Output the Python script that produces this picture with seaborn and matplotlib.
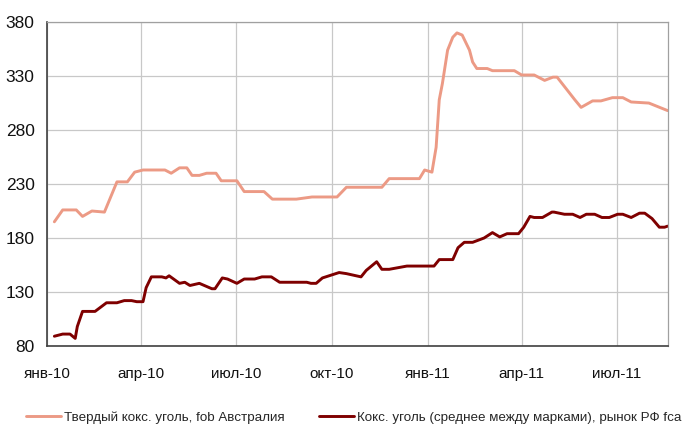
import pandas as pd
import matplotlib.pyplot as plt
import seaborn as sns

# Твердый коксующийся уголь, fob Австралия
hard_dates = ["2010-01-08", "2010-01-16", "2010-01-29", "2010-02-04", "2010-02-13", "2010-02-25",
              "2010-03-09", "2010-03-19", "2010-03-26", "2010-04-03", "2010-04-24", "2010-04-30",
              "2010-05-08", "2010-05-15", "2010-05-20", "2010-05-27", "2010-06-03", "2010-06-12",
              "2010-06-17", "2010-07-02", "2010-07-09", "2010-07-28", "2010-08-05", "2010-08-28",
              "2010-09-12", "2010-10-06", "2010-10-15", "2010-11-18", "2010-11-25", "2010-12-24",
              "2010-12-29", "2011-01-05", "2011-01-09", "2011-01-12", "2011-01-15", "2011-01-20",
              "2011-01-25", "2011-01-29", "2011-02-03", "2011-02-10", "2011-02-13", "2011-02-17",
              "2011-02-27", "2011-03-04", "2011-03-25", "2011-04-01", "2011-04-13", "2011-04-23",
              "2011-05-01", "2011-05-05", "2011-05-22", "2011-05-28", "2011-06-08", "2011-06-16",
              "2011-06-27", "2011-07-07", "2011-07-15", "2011-08-01", "2011-08-19"]
hard_vals = [195, 206, 206, 200, 205, 204,
             232, 232, 241, 243, 243, 240,
             245, 245, 238, 238, 240, 240,
             233, 233, 223, 223, 216, 216,
             218, 218, 227, 227, 235, 235,
             243, 241, 264, 308, 323, 354,
             366, 370, 368, 354, 343, 337,
             337, 335, 335, 331, 331, 326,
             329, 329, 308, 301, 307, 307,
             310, 310, 306, 305, 298]

# Коксующийся уголь (среднее между марками), рынок РФ fca
rf_dates = ["2010-01-08", "2010-01-16", "2010-01-23", "2010-01-28", "2010-01-30", "2010-02-04",
            "2010-02-16", "2010-02-27", "2010-03-09", "2010-03-16", "2010-03-23", "2010-03-28",
            "2010-04-03", "2010-04-06", "2010-04-11", "2010-04-21", "2010-04-25", "2010-04-28",
            "2010-05-08", "2010-05-13", "2010-05-18", "2010-05-27", "2010-06-08", "2010-06-11",
            "2010-06-18", "2010-06-23", "2010-07-02", "2010-07-09", "2010-07-19", "2010-07-26",
            "2010-08-04", "2010-08-12", "2010-09-07", "2010-09-11", "2010-09-16", "2010-09-22",
            "2010-10-08", "2010-10-15", "2010-10-29", "2010-11-03", "2010-11-13", "2010-11-18",
            "2010-11-25", "2010-12-12", "2011-01-07", "2011-01-12", "2011-01-25", "2011-01-30",
            "2011-02-05", "2011-02-13", "2011-02-24", "2011-03-04", "2011-03-11", "2011-03-18",
            "2011-03-29", "2011-04-03", "2011-04-09", "2011-04-13", "2011-04-21", "2011-04-30",
            "2011-05-02", "2011-05-12", "2011-05-20", "2011-05-27", "2011-06-02", "2011-06-10",
            "2011-06-17", "2011-06-24", "2011-07-02", "2011-07-07", "2011-07-15", "2011-07-23",
            "2011-07-28", "2011-08-04", "2011-08-11", "2011-08-16", "2011-08-19"]
rf_vals = [89, 91, 91, 87, 98, 112,
           112, 120, 120, 122, 122, 121,
           121, 134, 144, 144, 143, 145,
           138, 139, 136, 138, 133, 133,
           143, 142, 138, 142, 142, 144,
           144, 139, 139, 138, 138, 143,
           148, 147, 144, 150, 158, 151,
           151, 154, 154, 160, 160, 171,
           176, 176, 180, 185, 181, 184,
           184, 190, 200, 199, 199, 204,
           204, 202, 202, 199, 202, 202,
           199, 199, 202, 202, 199, 203,
           203, 198, 190, 190, 191]

tick_dates = ["2010-01-01", "2010-04-01", "2010-07-01", "2010-10-01",
              "2011-01-01", "2011-04-01", "2011-07-01"]
tick_labels = ["янв-10", "апр-10", "июл-10", "окт-10", "янв-11", "апр-11", "июл-11"]
y_ticks = [80, 130, 180, 230, 280, 330, 380]

label_hard = "Твердый кокс. уголь, fob Австралия"
label_rf = "Кокс. уголь (среднее между марками), рынок РФ fca"

hard = pd.DataFrame({"date": pd.to_datetime(hard_dates), "value": hard_vals})
rf = pd.DataFrame({"date": pd.to_datetime(rf_dates), "value": rf_vals})

sns.set_style("white")
plt.rcParams["font.family"] = ["Liberation Sans Narrow", "Liberation Sans", "DejaVu Sans"]

fig = plt.figure(figsize=(6.82, 4.25), dpi=100)
ax = fig.add_axes([0.069, 0.186, 0.910, 0.762])

sns.lineplot(data=hard, x="date", y="value", ax=ax, color="#EC9A85", linewidth=2.1, label=label_hard)
sns.lineplot(data=rf, x="date", y="value", ax=ax, color="#7F0000", linewidth=2.1, label=label_rf)

ax.set_xlim(pd.Timestamp("2010-01-01"), pd.Timestamp("2011-08-19"))
ax.set_ylim(80, 380)
ax.set_yticks(y_ticks)
ax.set_xticks(pd.to_datetime(tick_dates))
ax.set_xticklabels(tick_labels)
ax.set_xlabel("")
ax.set_ylabel("")
ax.grid(True, color="#c8c8c8", linewidth=0.9)
ax.set_axisbelow(True)

for side in ["top", "right"]:
    ax.spines[side].set_color("#a0a0a0")
    ax.spines[side].set_linewidth(0.9)
for side in ["left", "bottom"]:
    ax.spines[side].set_color("#404040")
    ax.spines[side].set_linewidth(1.2)

ax.tick_params(axis="both", which="both", direction="out", length=4, width=1,
               color="#404040", labelcolor="#111111", pad=5)
ax.tick_params(axis="x", pad=11)
for t in ax.get_yticklabels():
    t.set_fontfamily(["Liberation Sans", "DejaVu Sans"])
    t.set_fontsize(12.5)
for t in ax.get_xticklabels():
    t.set_fontfamily(["Liberation Sans", "DejaVu Sans"])
    t.set_fontsize(11)

ax.legend(loc="center", bbox_to_anchor=(0.494, -0.222), ncol=2, frameon=False,
          fontsize=9.65, handlelength=2.6, columnspacing=2.6, handletextpad=0.2)

fig.savefig("out.png", dpi=100)
